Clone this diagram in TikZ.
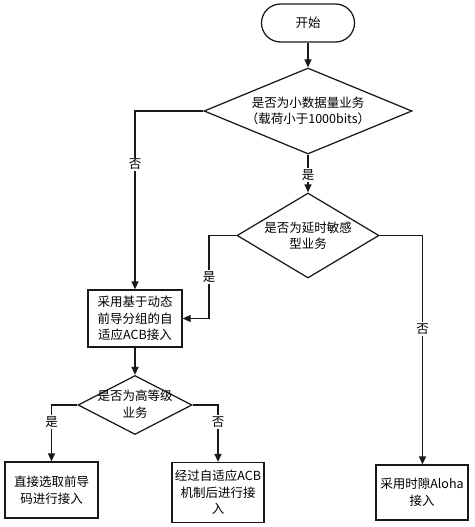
\documentclass[tikz,border=0pt]{standalone}
\usepackage{fontspec}
\setmainfont{Noto Sans CJK SC}
\usetikzlibrary{shapes.geometric,arrows.meta}
\begin{document}
\begin{tikzpicture}[x=1pt,y=-1pt,
  font=\fontsize{12.5}{16.5}\selectfont,
  line/.style={draw=black!90,line width=1.25pt},
  arr/.style={line,-{Triangle[length=8pt,width=7pt]}},
  boxnode/.style={draw=black!90,line width=1.25pt,rectangle,inner sep=0pt},
  dia/.style={draw=black!90,line width=1.25pt,diamond,inner sep=0pt},
  txt/.style={align=center,inner sep=0pt,text=black},
  lab/.style={fill=white,inner sep=1.5pt,text=black}]
\useasboundingbox (0,0) rectangle (474,527);
% start
\node[boxnode,rounded corners=19pt,minimum width=93pt,minimum height=38pt] (start) at (308,23) {};
\node[txt] at (start) {开始};
% decision 1
\node[dia,minimum width=208pt,minimum height=86pt] (d1) at (308,111) {};
\node[txt] at (d1) {是否为小数据量业务\\（载荷小于1000bits）};
% decision 2
\node[dia,minimum width=142pt,minimum height=85pt] (d2) at (308,235.5) {};
\node[txt] at (d2) {是否为延时敏感\\型业务};
% box 1
\node[boxnode,minimum width=94pt,minimum height=57pt] (b1) at (135,318.5) {};
\node[txt] at (b1) {采用基于动态\\前导分组的自\\适应ACB接入};
% decision 3
\node[dia,minimum width=114pt,minimum height=59pt] (d3) at (135,405) {};
\node[txt] at (135,404) {是否为高等级\\业务};
% bottom boxes
\node[boxnode,minimum width=93pt,minimum height=56pt] (b2) at (51.5,490) {};
\node[txt] at (b2) {直接选取前导\\码进行接入};
\node[boxnode,minimum width=92pt,minimum height=60pt] (b3) at (218,492.5) {};
\node[txt] at (b3) {经过自适应ACB\\机制后进行接\\入};
\node[boxnode,minimum width=92pt,minimum height=55pt] (b4) at (422,492.5) {};
\node[txt] at (b4) {采用时隙Aloha\\接入};
% corner coordinates
\coordinate (c1) at (135,111);
\coordinate (c2) at (209,235.5);
\coordinate (c3) at (209,318.5);
\coordinate (c4) at (422.5,235.5);
\coordinate (c5) at (51.5,405);
\coordinate (c6) at (218,405);
% connectors
\draw[arr] (start.south) -- (d1.north);
\draw[arr] (d1.west) -- (c1) -- node[lab,pos=0.3] {否} (b1.north);
\draw[arr] (d1.south) -- node[lab,pos=0.55] {是} (d2.north);
\draw[arr] (d2.west) -- (c2) -- node[lab,pos=0.5] {是} (c3) -- (b1.east);
\draw[arr] (d2.east) -- (c4) -- node[lab,pos=0.41] {否} (c4 |- b4.north);
\draw[arr] (b1.south) -- (d3.north);
\draw[arr] (d3.west) -- (c5) -- node[lab,pos=0.3] {是} (b2.north);
\draw[arr] (d3.east) -- (c6) -- node[lab,pos=0.3] {否} (b3.north);
\end{tikzpicture}
\end{document}
